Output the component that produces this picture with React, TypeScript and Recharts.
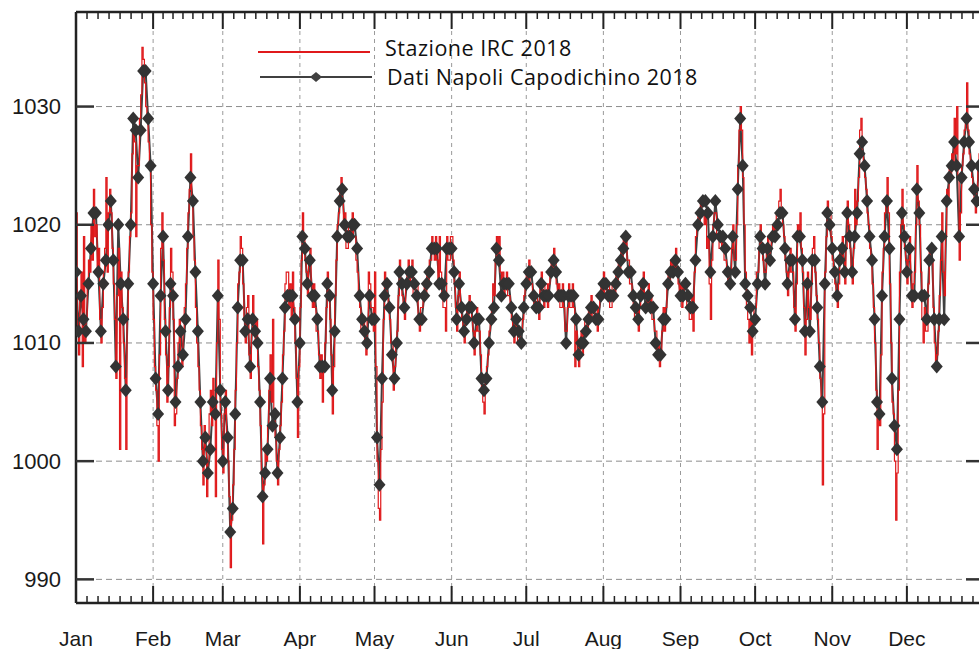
import { ComposedChart, Line, XAxis, YAxis, CartesianGrid, ReferenceLine } from "recharts";

const MONTHS = ["Jan", "Feb", "Mar", "Apr", "May", "Jun", "Jul", "Aug", "Sep", "Oct", "Nov", "Dec"];
const MONTH_START = [0, 31, 59, 90, 120, 151, 181, 212, 243, 273, 304, 334];
const MONTH_DAYS = [31, 28, 31, 30, 31, 30, 31, 31, 30, 31, 30, 31];
const Y_TICKS = [990, 1000, 1010, 1020, 1030];

// Dati Napoli Capodichino 2018 - daily pressure (hPa), one row per month
const NAPOLI = [
  1016, 1011, 1014, 1012, 1011, 1015, 1018, 1021, 1021, 1016, 1011, 1015, 1017, 1020, 1022, 1017, 1008, 1020, 1015, 1012, 1006, 1015, 1020, 1029, 1028, 1024, 1028, 1033, 1033, 1029, 1025,
  1015, 1007, 1004, 1014, 1019, 1011, 1006, 1015, 1014, 1005, 1008, 1011, 1009, 1012, 1019, 1024, 1022, 1016, 1011, 1005, 1000, 1002, 999, 1001, 1005, 1004, 1014, 1006,
  1000, 1005, 1002, 994, 996, 1004, 1013, 1017, 1017, 1011, 1012, 1008, 1012, 1011, 1010, 1005, 997, 999, 1001, 1007, 1003, 1004, 999, 1002, 1007, 1013, 1014, 1014, 1014, 1012, 1005,
  1010, 1019, 1018, 1015, 1017, 1014, 1014, 1012, 1008, 1008, 1008, 1015, 1014, 1006, 1011, 1019, 1022, 1023, 1020, 1019, 1019, 1020, 1020, 1018, 1014, 1012, 1011, 1010, 1014, 1012,
  1012, 1002, 998, 1007, 1014, 1015, 1013, 1009, 1007, 1010, 1016, 1015, 1013, 1015, 1016, 1016, 1015, 1014, 1012, 1012, 1014, 1015, 1016, 1018, 1018, 1018, 1015, 1015, 1014, 1018, 1018,
  1018, 1016, 1012, 1015, 1013, 1011, 1012, 1013, 1013, 1010, 1012, 1012, 1007, 1006, 1007, 1010, 1012, 1013, 1018, 1017, 1014, 1015, 1015, 1015, 1013, 1011, 1012, 1011, 1010, 1013,
  1015, 1016, 1016, 1014, 1013, 1013, 1015, 1014, 1014, 1014, 1016, 1017, 1016, 1014, 1014, 1014, 1010, 1014, 1014, 1014, 1012, 1009, 1010, 1010, 1011, 1012, 1013, 1013, 1012, 1012, 1014,
  1015, 1015, 1014, 1014, 1014, 1015, 1016, 1017, 1018, 1019, 1016, 1016, 1014, 1013, 1012, 1014, 1015, 1013, 1014, 1013, 1013, 1010, 1009, 1009, 1012, 1012, 1015, 1016, 1016, 1017, 1016,
  1014, 1014, 1015, 1014, 1013, 1013, 1017, 1020, 1021, 1022, 1022, 1021, 1016, 1019, 1022, 1020, 1019, 1019, 1018, 1016, 1015, 1019, 1016, 1023, 1029, 1025, 1015, 1014, 1013, 1011,
  1012, 1015, 1019, 1018, 1015, 1018, 1017, 1019, 1019, 1020, 1021, 1021, 1018, 1015, 1017, 1017, 1012, 1019, 1019, 1017, 1011, 1015, 1011, 1017, 1017, 1013, 1008, 1005, 1015, 1021, 1020,
  1018, 1016, 1014, 1017, 1018, 1016, 1021, 1019, 1016, 1019, 1021, 1026, 1027, 1025, 1022, 1019, 1017, 1012, 1005, 1004, 1014, 1019, 1022, 1018, 1007, 1003, 1001, 1012, 1021, 1019,
  1016, 1018, 1014, 1014, 1023, 1021, 1014, 1014, 1012, 1017, 1018, 1012, 1008, 1012, 1019, 1012, 1022, 1024, 1025, 1027, 1025, 1019, 1024, 1027, 1029, 1027, 1025, 1023, 1022, 1025, 1022,
];

// Stazione IRC 2018 - readings at 00h of each day
const IRC_00 = [
  1021, 1009, 1016, 1019, 1012, 1017, 1020, 1023, 1020, 1018, 1010, 1016, 1024, 1021, 1021, 1015, 1007, 1018, 1016, 1010, 1001, 1016, 1021, 1028, 1019, 1025, 1031, 1034, 1030, 1027, 1020,
  1012, 1006, 1000, 1018, 1017, 1009, 1008, 1018, 1012, 1004, 1010, 1009, 1011, 1015, 1021, 1026, 1019, 1013, 1008, 1003, 998, 1001, 1000, 1006, 1007, 997, 1017, 1004,
  999, 1006, 1000, 991, 998, 1006, 1015, 1019, 1015, 1010, 1014, 1007, 1014, 1010, 1008, 1003, 993, 1001, 1003, 1009, 1012, 1002, 998, 1003, 1009, 1015, 1016, 1015, 1016, 1010, 1002,
  1013, 1021, 1017, 1014, 1018, 1013, 1013, 1011, 1007, 1005, 1010, 1016, 1012, 1004, 1014, 1020, 1023, 1022, 1021, 1018, 1020, 1021, 1019, 1016, 1013, 1011, 1010, 1012, 1015, 1013,
  1016, 1000, 995, 1005, 1016, 1014, 1012, 1010, 1008, 1011, 1017, 1014, 1012, 1016, 1015, 1017, 1014, 1015, 1011, 1013, 1015, 1016, 1017, 1019, 1017, 1017, 1019, 1014, 1013, 1019, 1017,
  1019, 1015, 1011, 1016, 1012, 1010, 1013, 1014, 1012, 1009, 1013, 1011, 1006, 1004, 1008, 1011, 1013, 1014, 1019, 1019, 1015, 1014, 1016, 1014, 1012, 1010, 1011, 1010, 1011, 1014,
  1016, 1017, 1015, 1013, 1014, 1012, 1016, 1013, 1015, 1015, 1017, 1018, 1015, 1015, 1013, 1013, 1011, 1015, 1013, 1013, 1011, 1008, 1011, 1011, 1012, 1013, 1014, 1012, 1013, 1013, 1015,
  1016, 1014, 1015, 1013, 1015, 1016, 1017, 1018, 1019, 1019, 1017, 1015, 1013, 1012, 1011, 1015, 1016, 1014, 1015, 1014, 1012, 1011, 1010, 1009, 1013, 1013, 1016, 1017, 1017, 1018, 1015,
  1015, 1015, 1014, 1013, 1012, 1011, 1019, 1021, 1022, 1021, 1021, 1019, 1012, 1020, 1021, 1019, 1018, 1018, 1017, 1015, 1016, 1020, 1017, 1025, 1030, 1024, 1016, 1012, 1012, 1012,
  1013, 1016, 1020, 1017, 1016, 1019, 1018, 1020, 1020, 1021, 1023, 1020, 1017, 1014, 1018, 1016, 1011, 1020, 1021, 1016, 1009, 1016, 1012, 1018, 1016, 1012, 1007, 998, 1016, 1022, 1021,
  1017, 1015, 1013, 1018, 1019, 1015, 1022, 1018, 1015, 1023, 1022, 1028, 1026, 1024, 1021, 1018, 1015, 1010, 1001, 1003, 1016, 1021, 1024, 1015, 1005, 1000, 999, 1016, 1023, 1018,
  1015, 1019, 1013, 1016, 1025, 1020, 1012, 1013, 1011, 1018, 1017, 1010, 1009, 1014, 1021, 1014, 1023, 1025, 1026, 1029, 1030, 1017, 1025, 1028, 1032, 1026, 1024, 1022, 1023, 1026, 1023,
];

// Stazione IRC 2018 - readings at 12h of each day
const IRC_12 = [
  1011, 1014, 1008, 1010, 1015, 1016, 1017, 1019, 1016, 1012, 1013, 1018, 1016, 1023, 1018, 1012, 1014, 1001, 1013, 1007, 1012, 1019, 1026, 1027, 1025, 1029, 1035, 1032, 1029, 1025, 1016,
  1008, 1003, 1009, 1021, 1012, 1005, 1013, 1016, 1003, 1007, 1012, 1008, 1013, 1018, 1023, 1022, 1017, 1010, 1006, 1001, 1003, 997, 1004, 1003, 1004, 1010, 1012, 1001,
  1004, 1002, 997, 995, 1001, 1010, 1016, 1018, 1012, 1013, 1009, 1011, 1012, 1012, 1006, 999, 998, 1000, 1006, 1005, 1004, 1000, 1001, 1005, 1011, 1016, 1013, 1012, 1013, 1007, 1008,
  1017, 1019, 1016, 1017, 1015, 1015, 1011, 1009, 1009, 1008, 1013, 1014, 1009, 1008, 1017, 1021, 1024, 1020, 1018, 1020, 1019, 1019, 1017, 1014, 1011, 1012, 1009, 1016, 1013, 1011,
  1008, 996, 1001, 1012, 1015, 1013, 1010, 1006, 1010, 1014, 1015, 1013, 1015, 1017, 1016, 1014, 1015, 1012, 1013, 1014, 1014, 1015, 1017, 1018, 1019, 1015, 1016, 1013, 1011, 1017, 1019,
  1017, 1013, 1014, 1013, 1011, 1012, 1012, 1013, 1011, 1011, 1011, 1009, 1005, 1007, 1009, 1012, 1015, 1017, 1017, 1016, 1016, 1015, 1014, 1013, 1011, 1012, 1010, 1011, 1012, 1015,
  1015, 1015, 1014, 1014, 1013, 1015, 1014, 1015, 1013, 1016, 1016, 1017, 1014, 1013, 1015, 1011, 1013, 1013, 1015, 1008, 1010, 1010, 1009, 1012, 1011, 1012, 1012, 1013, 1011, 1014, 1014,
  1014, 1015, 1013, 1015, 1014, 1015, 1016, 1017, 1018, 1017, 1015, 1014, 1012, 1013, 1013, 1014, 1014, 1013, 1013, 1012, 1011, 1009, 1008, 1011, 1011, 1015, 1015, 1016, 1016, 1016, 1014,
  1013, 1014, 1013, 1012, 1014, 1016, 1020, 1020, 1021, 1020, 1018, 1015, 1017, 1021, 1019, 1018, 1019, 1017, 1016, 1016, 1018, 1017, 1020, 1028, 1028, 1020, 1013, 1010, 1009, 1013,
  1016, 1018, 1018, 1016, 1018, 1017, 1019, 1019, 1021, 1022, 1021, 1019, 1016, 1016, 1016, 1013, 1015, 1019, 1018, 1013, 1012, 1013, 1015, 1019, 1014, 1010, 1005, 1004, 1019, 1021, 1019,
  1016, 1014, 1015, 1017, 1017, 1018, 1020, 1016, 1018, 1020, 1024, 1029, 1025, 1023, 1020, 1017, 1013, 1006, 1004, 1009, 1018, 1022, 1021, 1010, 1004, 995, 1006, 1020, 1020, 1017,
  1017, 1016, 1015, 1020, 1022, 1016, 1010, 1011, 1015, 1017, 1013, 1008, 1011, 1017, 1016, 1019, 1022, 1024, 1025, 1026, 1024, 1021, 1026, 1029, 1028, 1025, 1023, 1021, 1025, 1024, 1022,
];

const PLOT_LEFT = 76;
const PLOT_RIGHT = 984;
const PLOT_TOP = 12;
const PLOT_BOTTOM = 603;
const AXIS_FONT = "'Liberation Sans', Arial, sans-serif";
const LEGEND_FONT = "'Open Sans', sans-serif";

const napoliData = NAPOLI.map((v, i) => ({ day: i, napoli: v }));
const ircData = IRC_00.flatMap((v, i) => [
  { day: i, irc: v },
  { day: i + 0.5, irc: IRC_12[i] },
]);

// 6 small ticks inside each month, long ticks on month starts
const minorTicks = MONTH_START.flatMap((s, m) => [1, 2, 3, 4, 5, 6].map((k) => s + (k * MONTH_DAYS[m]) / 7));
const xTicks = [...MONTH_START, ...minorTicks].sort((a, b) => a - b);

function BottomTick({ x, payload }: any) {
  const m = MONTH_START.indexOf(payload.value);
  const major = m >= 0;
  return (
    <g>
      <line x1={x} x2={x} y1={PLOT_BOTTOM} y2={PLOT_BOTTOM - (major ? 17 : 7)} stroke="#222" strokeWidth={major ? 2 : 1.5} />
      {major && (
        <text x={x} y={646} textAnchor="middle" fontSize={21} fontFamily={AXIS_FONT} fill="#1a1a1a">
          {MONTHS[m]}
        </text>
      )}
    </g>
  );
}

function TopTick({ x, payload }: any) {
  const major = MONTH_START.includes(payload.value);
  return <line x1={x} x2={x} y1={PLOT_TOP} y2={PLOT_TOP + (major ? 17 : 7)} stroke="#222" strokeWidth={major ? 2 : 1.5} />;
}

function YTick({ y, payload }: any) {
  return (
    <g>
      <line x1={PLOT_LEFT} x2={PLOT_LEFT + 18} y1={y} y2={y} stroke="#333" strokeWidth={2.5} />
      <line x1={PLOT_RIGHT - 18} x2={PLOT_RIGHT} y1={y} y2={y} stroke="#333" strokeWidth={2.5} />
      <text x={61} y={y} textAnchor="end" dominantBaseline="central" fontSize={22} fontFamily={AXIS_FONT} fill="#1a1a1a">
        {payload.value}
      </text>
    </g>
  );
}

function Diamond({ cx, cy }: any) {
  if (cx == null || cy == null) return <g />;
  return <polygon points={`${cx},${cy - 7} ${cx + 6},${cy} ${cx},${cy + 7} ${cx - 6},${cy}`} fill="#333" />;
}

function ChartLegend() {
  return (
    <svg width={480} height={64} style={{ position: "absolute", left: 250, top: 30 }}>
      <line x1={8} x2={120} y1={22} y2={22} stroke="#e0191b" strokeWidth={2} />
      <text x={135} y={26} fontSize={21.5} letterSpacing={0.5} fontFamily={LEGEND_FONT} fill="#111">
        Stazione IRC 2018
      </text>
      <line x1={10} x2={122} y1={47} y2={47} stroke="#404040" strokeWidth={2} />
      <polygon points="66,42 72,47 66,52 60,47" fill="#404040" />
      <text x={137} y={55} fontSize={21.5} letterSpacing={0.5} fontFamily={LEGEND_FONT} fill="#111">
        Dati Napoli Capodichino 2018
      </text>
    </svg>
  );
}

export default function App() {
  return (
    <div style={{ position: "absolute", left: 0, top: 0, width: 979, height: 649, overflow: "hidden", background: "#fff" }}>
      <ComposedChart width={1000} height={649} margin={{ top: 0, right: 1000 - PLOT_RIGHT, bottom: 0, left: 0 }}>
        <CartesianGrid vertical={false} stroke="#8c8c8c" strokeDasharray="6 4" />
        {MONTH_START.slice(1).map((d) => (
          <ReferenceLine key={d} x={d} stroke="#9a9a9a" strokeDasharray="4 4" />
        ))}
        <XAxis
          dataKey="day"
          type="number"
          domain={[0, 365]}
          ticks={xTicks}
          interval={0}
          tick={<BottomTick />}
          tickLine={false}
          axisLine={{ stroke: "#222", strokeWidth: 2.5 }}
          height={46}
          allowDataOverflow
        />
        <XAxis
          xAxisId="top"
          orientation="top"
          dataKey="day"
          type="number"
          domain={[0, 365]}
          ticks={xTicks}
          interval={0}
          tick={<TopTick />}
          tickLine={false}
          axisLine={{ stroke: "#222", strokeWidth: 2.5 }}
          height={PLOT_TOP}
          allowDataOverflow
        />
        <YAxis
          type="number"
          domain={[988, 1038]}
          ticks={Y_TICKS}
          interval={0}
          width={PLOT_LEFT}
          tick={<YTick />}
          tickLine={false}
          axisLine={{ stroke: "#222", strokeWidth: 2.5 }}
          allowDataOverflow
        />
        <Line
          data={napoliData}
          dataKey="napoli"
          name="Dati Napoli Capodichino 2018"
          type="linear"
          stroke="#404040"
          strokeWidth={2}
          dot={(p: any) => <Diamond key={p.index} {...p} />}
          activeDot={false}
          isAnimationActive={false}
        />
        <Line
          data={ircData}
          xAxisId="top"
          dataKey="irc"
          name="Stazione IRC 2018"
          type="stepAfter"
          stroke="#e0191b"
          strokeWidth={1.2}
          dot={false}
          activeDot={false}
          isAnimationActive={false}
        />
      </ComposedChart>
      <ChartLegend />
    </div>
  );
}
